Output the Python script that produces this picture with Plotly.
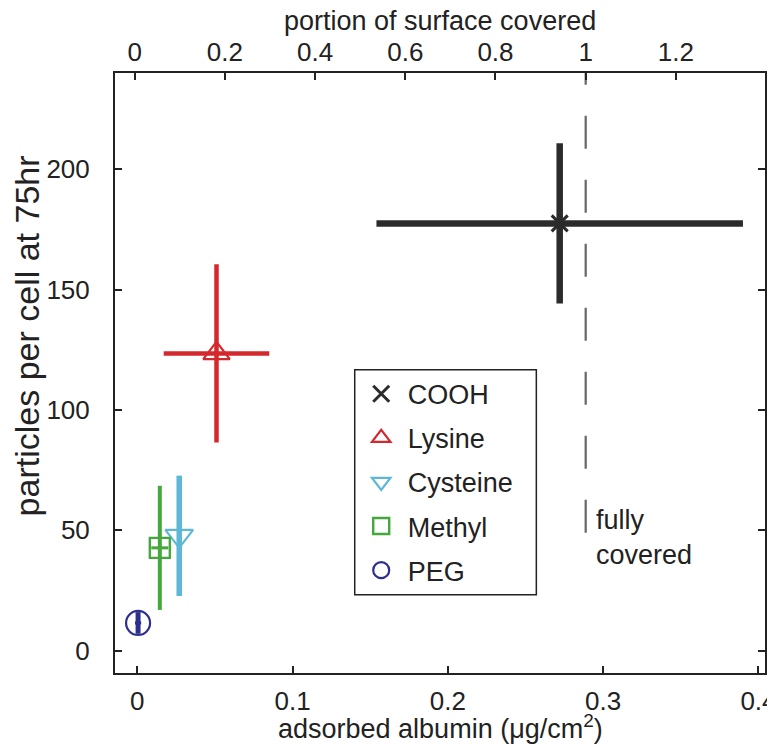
import plotly.graph_objects as go

# ---- data ----
names = ["COOH", "Lysine", "Cysteine", "Methyl", "PEG"]
albumin = [0.272, 0.051, 0.027, 0.0145, 0.0005]          # µg/cm²
albumin_err = [0.118, 0.034, 0.0, 0.0055, 0.002]
particles = [177.5, 123.5, 47.7, 42.7, 11.5]             # particles per cell at 75 hr
particles_err = [33.3, 37.0, 25.0, 25.8, 4.5]

full_coverage = 1.0            # portion of surface covered (top axis)
full_line_y = [49, 240]

x_ticks = [0, 0.1, 0.2, 0.3, 0.4]
x_ticktext = ["0", "0.1", "0.2", "0.3", "0.4"]
top_ticks = [0, 0.2, 0.4, 0.6, 0.8, 1.0, 1.2]
top_ticktext = ["0", "0.2", "0.4", "0.6", "0.8", "1", "1.2"]
y_ticks = [0, 50, 100, 150, 200]
y_ticktext = ["0", "50", "100", "150", "200"]

# ---- styles ----
colors = ["#2b2b2b", "#d5282d", "#5cb8d6", "#45a83c", "#2d2f8e"]
symbols = ["x-thin-open", "triangle-up-open", "triangle-down-open", "square-open", "circle-open"]
msizes = [16, 23, 24, 20, 24]
mline = [3, 2.2, 2.2, 2.4, 2.2]
bar_w = [6.5, 4.5, 5.5, 4, 5]
xbar_w = [6.5, 4.5, 5, 3, 3]

FONT = "Liberation Sans, Arial, Helvetica, sans-serif"
INK = "#222222"

fig = go.Figure()

for i, n in enumerate(names):
    fig.add_trace(go.Scatter(
        x=[albumin[i]], y=[particles[i]],
        name=n, legendgroup=n,
        mode="markers",
        marker=dict(symbol=symbols[i], size=msizes[i], color=colors[i],
                    line=dict(color=colors[i], width=mline[i])),
        error_x=dict(type="data", array=[albumin_err[i]], visible=albumin_err[i] > 0,
                     color=colors[i], thickness=xbar_w[i], width=0),
        error_y=dict(type="data", array=[particles_err[i]], visible=True,
                     color=colors[i], thickness=bar_w[i], width=0),
        xaxis="x", yaxis="y",
    ))

# full coverage line on the top axis
fig.add_trace(go.Scatter(
    x=[full_coverage, full_coverage], y=full_line_y,
    mode="lines", line=dict(color="#666666", width=2.2, dash="33px,31px"),
    xaxis="x2", yaxis="y", showlegend=False, hoverinfo="skip",
))

fig.add_annotation(
    x=full_coverage, y=47, xref="x2", yref="y",
    text="fully<br>covered", showarrow=False,
    xanchor="left", yanchor="middle", align="left", xshift=8,
    font=dict(family=FONT, size=27, color=INK),
)

# axis titles placed as in the reference
fig.add_annotation(
    x=0.5, y=-0.09, xref="paper", yref="paper",
    text="adsorbed albumin (μg/cm<sup>2</sup>)", showarrow=False,
    xanchor="center", yanchor="middle",
    font=dict(family=FONT, size=27, color=INK),
)
fig.add_annotation(
    x=0.5, y=1.086, xref="paper", yref="paper",
    text="portion of surface covered", showarrow=False,
    xanchor="center", yanchor="middle",
    font=dict(family=FONT, size=27, color=INK),
)
fig.add_annotation(
    x=-0.136, y=0.562, xref="paper", yref="paper",
    text="particles per cell at 75hr", showarrow=False, textangle=-90,
    xanchor="center", yanchor="middle",
    font=dict(family=FONT, size=34, color=INK),
)

# legend frame
fig.add_shape(type="rect", xref="paper", yref="paper",
              x0=0.3688, x1=0.6482, y0=0.1305, y1=0.5055,
              line=dict(color=INK, width=1.5), fillcolor="white", layer="above")

axis_common = dict(
    showgrid=False, zeroline=False, showline=True, linecolor=INK, linewidth=2,
    ticks="inside", ticklen=7, tickwidth=2, tickcolor=INK, automargin=False,
)

fig.update_layout(
    width=775, height=747,
    margin=dict(l=107, r=18, t=65, b=82),
    plot_bgcolor="white", paper_bgcolor="white",
    font=dict(family=FONT, size=26, color=INK),
    xaxis=dict(range=[-0.01436, 0.4042], tickvals=x_ticks, ticktext=x_ticktext,
               ticklabelstandoff=4,
               tickfont=dict(family=FONT, size=26, color=INK), **axis_common),
    xaxis2=dict(overlaying="x", side="top", range=[-0.0437, 1.3976],
                tickvals=top_ticks, ticktext=top_ticktext,
                tickfont=dict(family=FONT, size=26, color=INK), **axis_common),
    yaxis=dict(range=[-9.3, 240], tickvals=y_ticks, ticktext=y_ticktext, mirror="ticks",
               ticklabelstandoff=18,
               tickfont=dict(family=FONT, size=26, color=INK), **axis_common),
    legend=dict(x=0.3688, y=0.5055, xanchor="left", yanchor="top",
                borderwidth=0, bgcolor="rgba(0,0,0,0)",
                font=dict(family=FONT, size=27, color=INK),
                tracegroupgap=6, itemwidth=43, traceorder="grouped"),
    showlegend=True,
)

fig.write_html("out.html")
